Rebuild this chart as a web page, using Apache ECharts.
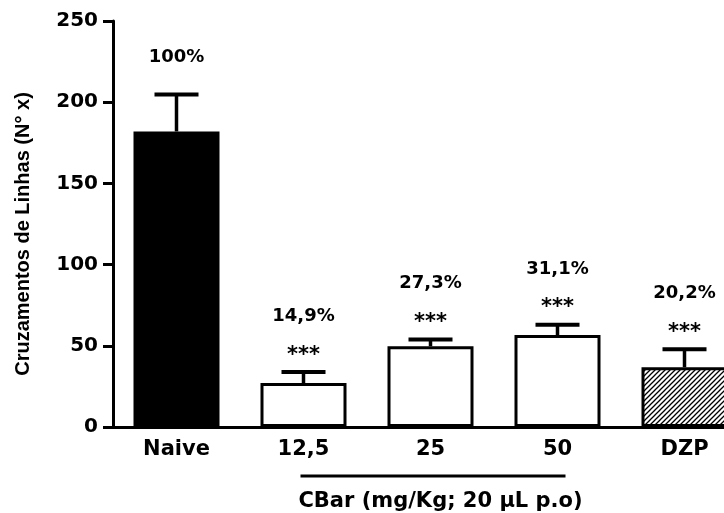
<!DOCTYPE html>
<html><head><meta charset="utf-8">
<script src="https://cdn.jsdelivr.net/npm/echarts@6/dist/echarts.min.js"></script>
<style>html,body{margin:0;padding:0;background:#fff}#c{width:724px;height:513px}</style>
</head><body><div id="c"></div>
<script>
const categories = ['Naive', '12,5', '25', '50', 'DZP'];
const means = [182, 27.1, 49.7, 56.6, 36.8];
const sems = [22.8, 6.7, 4.2, 6.3, 11];
const percentLabels = ['100%', '14,9%', '27,3%', '31,1%', '20,2%'];
const significance = ['', '***', '***', '***', '***'];
const yMin = 0, yMax = 250, yInterval = 50;
const yTitle = 'Cruzamentos de Linhas (N° x)';
const groupTitle = 'CBar (mg/Kg; 20 µL p.o)';

const FONT = '"DejaVu Sans", sans-serif';

// hatch pattern for DZP
const pc = document.createElement('canvas');
pc.width = 5; pc.height = 5;
const g = pc.getContext('2d');
g.fillStyle = '#fff'; g.fillRect(0, 0, 5, 5);
g.strokeStyle = '#000'; g.lineWidth = 1.3;
g.beginPath();
g.moveTo(-1, 6); g.lineTo(6, -1);
g.moveTo(-1, 1); g.lineTo(1, -1);
g.moveTo(4, 6); g.lineTo(6, 4);
g.stroke();

const fills = ['#000', '#fff', '#fff', '#fff', {image: pc, repeat: 'repeat'}];

const chart = echarts.init(document.getElementById('c'), null, {renderer: 'canvas'});

const option = {
  animation: false,
  backgroundColor: '#fff',
  grid: {left: 113, top: 21, width: 635, height: 406, containLabel: false, outerBoundsMode: 'none'},
  xAxis: {
    type: 'category',
    data: categories,
    axisLine: {lineStyle: {color: '#000', width: 3}},
    axisTick: {alignWithLabel: true, length: 8, lineStyle: {color: '#000', width: 2.5}},
    axisLabel: {color: '#000', fontFamily: FONT, fontWeight: 'bold', fontSize: 21, margin: 12}
  },
  yAxis: {
    type: 'value',
    min: yMin, max: yMax, interval: yInterval,
    name: yTitle,
    nameLocation: 'middle',
    nameGap: 80,
    nameRotate: 90,
    nameTextStyle: {color: '#000', fontFamily: '"Liberation Sans", Arial, sans-serif', fontWeight: 'bold', fontSize: 20, padding: [0, 20, 0, 0]},
    splitLine: {show: false},
    axisLine: {show: true, lineStyle: {color: '#000', width: 3}},
    axisTick: {show: true, length: 10, lineStyle: {color: '#000', width: 3}},
    axisLabel: {color: '#000', fontFamily: FONT, fontWeight: 'bold', fontSize: 20, margin: 15}
  },
  series: [
    {
      type: 'bar',
      barWidth: 86,
      data: means.map((v, i) => ({value: v, itemStyle: {color: fills[i], borderColor: '#000', borderWidth: 3}})),
      z: 2
    },
    {
      type: 'custom',
      z: 3,
      encode: {x: 0, y: 1},
      data: means.map((v, i) => [i, v, sems[i]]),
      renderItem: function (params, api) {
        const i = api.value(0), m = api.value(1), s = api.value(2);
        const base = api.coord([i, m]);
        const top = api.coord([i, m + s]);
        const x = top[0];
        const children = [
          {type: 'line', shape: {x1: x, y1: base[1], x2: x, y2: top[1]}, style: {stroke: '#000', lineWidth: 3.5}},
          {type: 'line', shape: {x1: x - 22, y1: top[1], x2: x + 22, y2: top[1]}, style: {stroke: '#000', lineWidth: 4}}
        ];
        const sig = significance[i];
        let py;
        if (sig) {
          const sy = top[1] - 22;
          children.push({type: 'text', style: {text: sig, x: x, y: sy + 5, align: 'center', verticalAlign: 'middle', font: 'bold 21px ' + FONT, fill: '#000'}});
          py = sy - 34;
        } else {
          py = top[1] - 37;
        }
        children.push({type: 'text', style: {text: percentLabels[i], x: x, y: py, align: 'center', verticalAlign: 'middle', font: 'bold 18px ' + FONT, fill: '#000'}});
        return {type: 'group', children: children};
      }
    }
  ]
};
chart.setOption(option);

// group annotation under the CBar doses
const pFirst = chart.convertToPixel({gridIndex: 0}, [1, 0]);
const pMid = chart.convertToPixel({gridIndex: 0}, [2, 0]);
const pLast = chart.convertToPixel({gridIndex: 0}, [3, 0]);
chart.setOption({
  graphic: [
    {type: 'line', shape: {x1: pFirst[0] - 3, y1: 476, x2: pLast[0] + 8, y2: 476}, style: {stroke: '#000', lineWidth: 3}},
    {type: 'text', x: pMid[0] + 10, y: 502, style: {text: groupTitle, align: 'center', verticalAlign: 'middle', font: 'bold 21px ' + FONT, fill: '#000'}}
  ]
});
</script>
</body></html>
